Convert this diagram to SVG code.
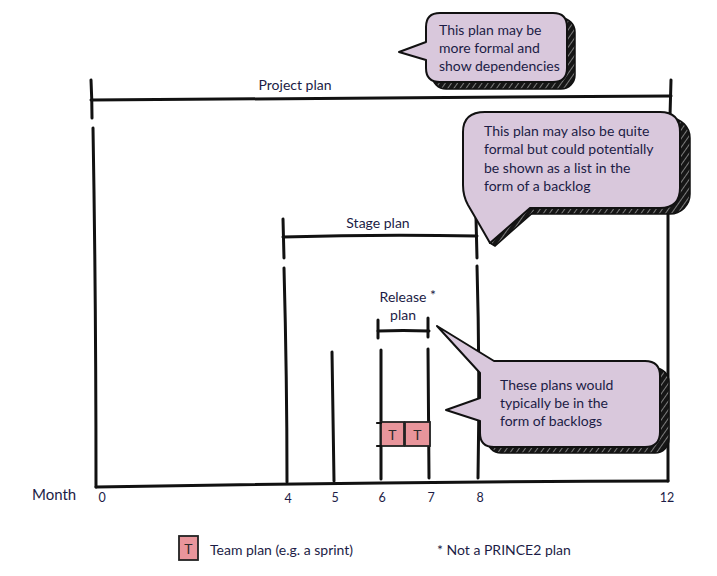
<svg xmlns="http://www.w3.org/2000/svg" width="717" height="576" viewBox="0 0 717 576">
  <defs>
    <!-- dark scribbled shading behind the speech bubbles -->
    <pattern id="hatch" patternUnits="userSpaceOnUse" width="5" height="5" patternTransform="rotate(35)">
      <rect width="5" height="5" fill="#161616"/>
      <line x1="2.5" y1="0" x2="2.5" y2="5" stroke="#ffffff" stroke-width="0.8" opacity="0.55"/>
    </pattern>
    <style>
      .ink { fill: none; stroke: #111; stroke-width: 3; stroke-linecap: round; stroke-linejoin: round; }
      .thin { fill: none; stroke: #111; stroke-width: 2.2; stroke-linecap: round; }
      .bubble { fill: #d9c8dc; stroke: #111; stroke-width: 2; stroke-linejoin: round; }
      .shade { fill: url(#hatch); stroke: #111; stroke-width: 1.5; }
      .team { fill: #e8959b; stroke: #222; stroke-width: 1.8; }
      text { font-family: "Lato", "Liberation Sans", sans-serif; fill: #1c1c46; }
      .lbl { font-size: 14px; text-anchor: middle; }
      .note { font-size: 14px; }
      .num { font-size: 12.5px; text-anchor: middle; }
      .tee { font-size: 14px; text-anchor: middle; fill: #2a2a2a; }
    </style>
  </defs>

  <!-- timeline brackets and month markers -->
  <g id="connectors">
    <!-- project plan span -->
    <path class="ink" d="M 91 80 Q 92 100 92 118"/>
    <path class="ink" d="M 91 100 Q 380 97 671 96"/>
    <path class="ink" d="M 671 80 L 670 116"/>
    <!-- frame of the time axis -->
    <path class="ink" d="M 93 128 Q 96 300 96 487"/>
    <path class="ink" d="M 96 487 Q 380 482 668 481"/>
    <path class="ink" d="M 668 205 L 668 481"/>
    <!-- stage plan span -->
    <path class="ink" d="M 283 219 L 284 258"/>
    <path class="ink" d="M 283 237 Q 380 234 477 236"/>
    <path class="ink" d="M 476 218 L 477 258"/>
    <!-- month verticals -->
    <path class="ink" d="M 284 268 Q 287 380 287 482"/>
    <path class="ink" d="M 332 352 L 334 481"/>
    <path class="ink" d="M 381 350 L 381 479"/>
    <path class="ink" d="M 428 349 L 429 478"/>
    <path class="ink" d="M 477 266 Q 480 370 478 478"/>
    <!-- release plan span -->
    <path class="ink" d="M 378 320 L 378 338"/>
    <path class="ink" d="M 378 331 Q 403 330 429 331"/>
    <path class="ink" d="M 428 318 L 428 337"/>
  </g>

  <g id="project-plan-label">
    <text class="lbl" x="295" y="90">Project plan</text>
  </g>
  <g id="stage-plan-label">
    <text class="lbl" x="378" y="228">Stage plan</text>
  </g>
  <g id="release-plan-label">
    <text class="lbl" x="403" y="302">Release</text>
    <text x="430" y="300" style="font-size:14px">*</text>
    <text class="lbl" x="403" y="320">plan</text>
  </g>

  <!-- team plans inside the release window -->
  <g id="team-plans">
    <rect class="team" x="381" y="422" width="23" height="24"/>
    <rect class="team" x="405" y="422" width="25" height="24"/>
    <path class="thin" d="M 377 423 L 381 423 M 377 446 L 381 446"/>
    <text class="tee" x="392.5" y="440">T</text>
    <text class="tee" x="417.5" y="440">T</text>
  </g>

  <!-- axis labels -->
  <g id="axis">
    <text x="32" y="500" style="font-size:15px">Month</text>
    <text class="num" x="102" y="502">0</text>
    <text class="num" x="288" y="503">4</text>
    <text class="num" x="335" y="502">5</text>
    <text class="num" x="382" y="502">6</text>
    <text class="num" x="431" y="502">7</text>
    <text class="num" x="480" y="502">8</text>
    <text class="num" x="667" y="502">12</text>
  </g>

  <!-- callout on the project plan -->
  <g id="note-project">
    <rect class="shade" x="432" y="18" width="143" height="71" rx="14"/>
    <path class="bubble" d="M 440 13 H 553 Q 567 13 567 27 V 68 Q 567 82 553 82 H 440 Q 426 82 426 68 V 60 L 399 52 L 426 42 V 27 Q 426 13 440 13 Z"/>
    <text class="note" x="439" y="35">This plan may be</text>
    <text class="note" x="439" y="53">more formal and</text>
    <text class="note" x="439" y="71">show dependencies</text>
  </g>

  <!-- callout on the stage plan -->
  <g id="note-stage">
    <rect class="shade" x="470" y="118" width="220" height="96" rx="20"/>
    <path class="shade" d="M 536 210 L 495 246 L 490 243 L 528 206 Z"/>
    <path class="bubble" d="M 485 112 H 660 Q 680 112 680 132 V 188 Q 680 208 660 208 H 530 L 490 243 Q 478 222 468 205 Q 463 196 463 185 V 132 Q 463 112 485 112 Z"/>
    <text class="note" x="484" y="136">This plan may also be quite</text>
    <text class="note" x="484" y="154">formal but could potentially</text>
    <text class="note" x="484" y="173">be shown as a list in the</text>
    <text class="note" x="484" y="191">form of a backlog</text>
  </g>

  <!-- callout on the release and team plans -->
  <g id="note-release">
    <rect class="shade" x="487" y="368" width="182" height="85" rx="14"/>
    <path class="bubble" d="M 494 361 H 645 Q 660 361 660 376 V 432 Q 660 447 645 447 H 494 Q 480 447 480 433 V 421 L 446 410 L 480 398 V 373 L 437 326 L 494 361 Z"/>
    <text class="note" x="500" y="390">These plans would</text>
    <text class="note" x="500" y="408">typically be in the</text>
    <text class="note" x="500" y="426">form of backlogs</text>
  </g>

  <!-- legend -->
  <g id="legend">
    <rect class="team" x="179" y="536" width="19" height="24"/>
    <text class="tee" x="188.5" y="554">T</text>
    <text class="note" x="210" y="555">Team plan (e.g. a sprint)</text>
    <text class="note" x="437" y="555">* Not a PRINCE2 plan</text>
  </g>
</svg>
